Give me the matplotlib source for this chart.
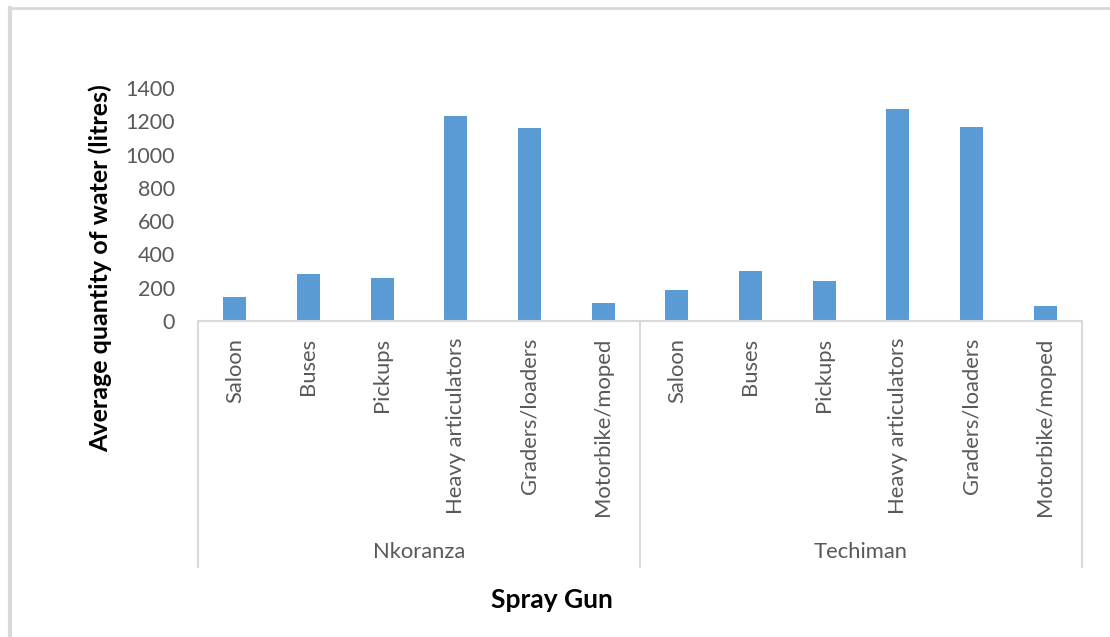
import matplotlib
matplotlib.use("Agg")
import matplotlib.pyplot as plt
from matplotlib.lines import Line2D

# Vehicle categories and average water use per district
categories = ["Saloon", "Buses", "Pickups", "Heavy articulators",
              "Graders/loaders", "Motorbike/moped"]
districts = ["Nkoranza", "Techiman"]
nkoranza = [145, 285, 258, 1230, 1162, 110]
techiman = [185, 298, 242, 1276, 1168, 93]
y_ticks = [0, 200, 400, 600, 800, 1000, 1200, 1400]

BAR = "#5B9BD5"
AXIS = "#D9D9D9"
TEXT = "#595959"
FONT = "Lato"

fig = plt.figure(figsize=(11.10, 6.37), dpi=100)
ax = fig.add_axes([198 / 1110, 1 - 321 / 637, (1082 - 198) / 1110, (321 - 88) / 637])

values = nkoranza + techiman
labels = categories + categories
xs = list(range(len(values)))
ax.bar(xs, values, width=0.31, color=BAR, edgecolor="none", zorder=2)

ax.set_xlim(-0.5, len(values) - 0.5)
ax.set_ylim(0, 1400)
ax.set_yticks(y_ticks)
ax.set_yticklabels([str(v) for v in y_ticks], fontname=FONT, fontsize=15.5, color=TEXT)
ax.tick_params(axis="y", length=0, pad=16.5)
ax.set_xticks([])

for side in ("left", "right", "top"):
    ax.spines[side].set_visible(False)
ax.spines["bottom"].set_color(AXIS)
ax.spines["bottom"].set_linewidth(1.5)

# axis coordinates of the lower category band
px = 233.0  # pixels per axes height
label_top = -(338 - 321) / px
group_y = -(552 - 321) / px
band_bottom = -(567 - 321) / px

trans = ax.get_xaxis_transform()
for x, lab in zip(xs, labels):
    ax.text(x, label_top, lab, transform=trans, rotation=90, ha="center", va="top",
            fontname=FONT, fontsize=15.8, color=TEXT)

n = len(categories)
for g, name in enumerate(districts):
    centre = g * n + (n - 1) / 2
    ax.text(centre, group_y, name, transform=trans, ha="center", va="center",
            fontname=FONT, fontsize=15.8, color=TEXT)

for xb in [-0.5, n - 0.5, 2 * n - 0.5]:
    ax.add_line(Line2D([xb, xb], [0, band_bottom], transform=trans, color=AXIS,
                       linewidth=1.5, clip_on=False))

fig.text(552 / 1110, 1 - 600 / 637, "Spray Gun", ha="center", va="center",
         fontname=FONT, fontsize=19, fontweight="bold", color="black")
fig.text(100 / 1110, 1 - 268 / 637, "Average quantity of water (litres)", rotation=90,
         ha="center", va="center", fontname=FONT, fontsize=18, fontweight="bold",
         color="black")

# chart frame edges
fig.add_artist(Line2D([10 / 1110, 10 / 1110], [0, 1 - 8 / 637], transform=fig.transFigure,
                      color=AXIS, linewidth=3))
fig.add_artist(Line2D([10 / 1110, 1], [1 - 8 / 637, 1 - 8 / 637], transform=fig.transFigure,
                      color=AXIS, linewidth=2))

fig.savefig("out.png", dpi=100)
